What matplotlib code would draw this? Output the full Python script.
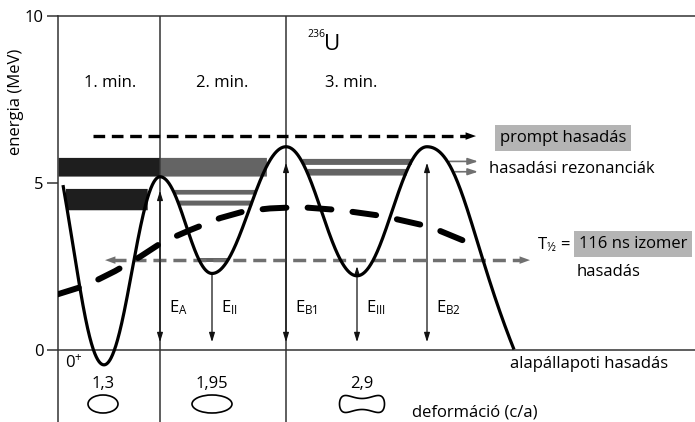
import numpy as np
import matplotlib.pyplot as plt
from matplotlib.patches import Ellipse, Polygon

plt.rcParams['font.family'] = ['Open Sans', 'DejaVu Sans']
plt.rcParams['mathtext.fontset'] = 'custom'
plt.rcParams['mathtext.rm'] = 'Open Sans'
plt.rcParams['mathtext.it'] = 'Open Sans:italic'
plt.rcParams['mathtext.bf'] = 'Open Sans:bold'

# fission barrier: wall start, 1. min, A, 2. min, B1, 3. min, B2, scission
node_x = [63, 104, 160, 212, 286, 357, 427, 514]
node_E = [4.93, -0.46, 5.18, 2.28, 6.08, 2.21, 6.08, 0.0]

# liquid drop part of the energy (thick dashed)
ld_x = [56, 87, 115, 140, 163, 190, 220, 245, 270, 300, 340, 383, 430, 472]
ld_E = [1.64, 1.93, 2.35, 2.78, 3.23, 3.58, 3.94, 4.15, 4.23, 4.27, 4.18, 4.00, 3.68, 3.16]

# level bands inside the wells
band_well = [1, 1, 2, 2, 2, 2, 3, 3]
band_lo = [5.20, 4.19, 5.20, 4.66, 4.33, 2.62, 5.55, 5.23]
band_hi = [5.76, 4.83, 5.76, 4.80, 4.48, 2.74, 5.73, 5.43]

E_prompt = 6.40
E_isomer = 2.68

min_names = ['1. min.', '2. min.', '3. min.']
min_name_x = [110, 222, 351]
deform_ca = ['1,3', '1,95', '2,9']
shape_x = [103, 212, 362]

PX = 33.35  # pixels per MeV


def barrier_curve(xs, es, slope0, slope1, k=0.38, n=300):
    cx, ce = [], []
    t = np.linspace(0, 1, n)[:, None]
    last = len(xs) - 2
    for i in range(len(xs) - 1):
        x0, x1, e0, e1 = xs[i], xs[i + 1], es[i], es[i + 1]
        dx = x1 - x0
        s0 = slope0 if i == 0 else 0.0
        s1 = slope1 if i == last else 0.0
        h0 = k * dx
        h1 = (0.5 if i == last else k) * dx
        P = np.array([[x0, e0], [x0 + h0, e0 + s0 * h0],
                      [x1 - h1, e1 - s1 * h1], [x1, e1]])
        b = ((1 - t) ** 3) * P[0] + 3 * ((1 - t) ** 2) * t * P[1] \
            + 3 * (1 - t) * t ** 2 * P[2] + t ** 3 * P[3]
        cx.append(b[:, 0])
        ce.append(b[:, 1])
    return np.concatenate(cx), np.concatenate(ce)


fig = plt.figure(figsize=(6.95, 4.22), dpi=100)
ax = fig.add_axes([58 / 695, 0, 637 / 695, 406 / 422])
ax.set_xlim(58, 695)
ax.set_ylim((349.5 - 422) / PX, (349.5 - 16) / PX)

frame = '#333333'
for side in ['right', 'bottom']:
    ax.spines[side].set_visible(False)
for side in ['left', 'top']:
    ax.spines[side].set_color(frame)
    ax.spines[side].set_linewidth(1.1)
ax.set_xticks([])
ax.set_yticks([0, 5, 10])
ax.tick_params(axis='y', direction='out', length=7.8, width=1.1, color=frame,
               labelsize=12, pad=2.4)

ax.axhline(0, color=frame, lw=1.1, zorder=2)
ax.axvline(node_x[2], color=frame, lw=1.1, zorder=2)
ax.axvline(node_x[4], color=frame, lw=1.1, zorder=2)

# barrier curve
cx, ce = barrier_curve(node_x, node_E, -0.17, -0.075)
xg = np.arange(58, 514, 0.1)
pot = np.interp(xg, cx, ce)

# level bands, each well between its two barrier tops
edges = [58, node_x[2], node_x[4], node_x[6]]
for w, lo, hi in zip(band_well, band_lo, band_hi):
    mid = (lo + hi) / 2
    mask = (xg >= edges[w - 1]) & (xg <= edges[w]) & (pot < mid)
    color = '#1e1e1e' if w == 1 else '#646464'
    ax.fill_between(xg, lo, hi, where=mask, color=color, lw=0, zorder=1)

ax.plot(cx, ce, color='black', lw=2.3, solid_capstyle='butt', zorder=5)

# liquid drop energy
ax.plot(ld_x, ld_E, color='black', lw=4.3, dashes=(4.0, 3.55),
        dash_capstyle='round', zorder=6)

# prompt fission
ax.plot([93, 466], [E_prompt] * 2, color='black', lw=2.4, dashes=(3.5, 2.0), zorder=4)
ax.annotate('', xy=(476, E_prompt), xytext=(465, E_prompt),
            arrowprops=dict(arrowstyle='-|>,head_length=0.75,head_width=0.27',
                            color='black', lw=0, mutation_scale=10,
                            shrinkA=0, shrinkB=0))

# isomer fission (both directions)
gray = '#707070'
ax.plot([113, 522], [E_isomer] * 2, color=gray, lw=2.5, dashes=(3.75, 2.0), zorder=3)
for tip, tail in [(105, 115), (530, 520)]:
    ax.annotate('', xy=(tip, E_isomer), xytext=(tail, E_isomer),
                arrowprops=dict(arrowstyle='-|>,head_length=0.75,head_width=0.27',
                                color=gray, lw=0, mutation_scale=10,
                                shrinkA=0, shrinkB=0))

# resonance arrows out of the third well
for lo, hi in zip(band_lo[-2:], band_hi[-2:]):
    mid = (lo + hi) / 2
    start = xg[np.where((xg > node_x[6]) & (pot < mid))[0][0]]
    ax.annotate('', xy=(478, mid), xytext=(start + 2, mid),
                arrowprops=dict(arrowstyle='-|>,head_length=0.6,head_width=0.2',
                                color=gray, lw=1.2, mutation_scale=10,
                                shrinkA=0, shrinkB=0))

# energy differences
def varrow(x, e0, e1, style):
    ax.annotate('', xy=(x, e1), xytext=(x, e0),
                arrowprops=dict(arrowstyle=style + ',head_length=0.55,head_width=0.17',
                                color='#111111', lw=0.9, mutation_scale=10,
                                shrinkA=0, shrinkB=0), zorder=4)


varrow(node_x[2], 0.22, node_E[2] - 0.42, '<|-|>')
varrow(node_x[3], node_E[3], 0.22, '-|>')
varrow(node_x[4], 0.22, node_E[4] - 0.48, '<|-|>')
varrow(node_x[5], 0.22, E_isomer - 0.18, '<|-|>')
varrow(node_x[6], 0.22, node_E[6] - 0.48, '<|-|>')

e_labels = [r'$\mathrm{E_{A}}$', r'$\mathrm{E_{II}}$', r'$\mathrm{E_{B1}}$',
            r'$\mathrm{E_{III}}$', r'$\mathrm{E_{B2}}$']
for xi, lab in zip(node_x[2:7], e_labels):
    ax.text(xi + 9, 1.13, lab, ha='left', va='baseline', fontsize=12)

# texts
for name, xm in zip(min_names, min_name_x):
    ax.text(xm, 7.86, name, ha='center', va='baseline', fontsize=12)
ax.text(307, 9.36, '236', ha='left', va='baseline', fontsize=7.5)
ax.text(324, 8.98, 'U', ha='left', va='baseline', fontsize=16)

box = dict(boxstyle='square,pad=0.3', fc='#b4b4b4', ec='none')
ax.text(500, 6.23, 'prompt hasadás', ha='left', va='baseline', fontsize=12, bbox=box)
ax.text(489, 5.28, 'hasadási rezonanciák', ha='left', va='baseline', fontsize=12)
ax.text(537, 3.03, r'$\mathrm{T_{½}}$ =', ha='left', va='baseline', fontsize=12)
ax.text(579, 3.03, '116 ns izomer', ha='left', va='baseline', fontsize=12, bbox=box)
ax.text(577, 2.21, 'hasadás', ha='left', va='baseline', fontsize=12)
ax.text(510, -0.56, 'alapállapoti hasadás', ha='left', va='baseline', fontsize=12)
ax.text(412, -2.01, 'deformáció (c/a)', ha='left', va='baseline', fontsize=12)
ax.text(65, -0.56, r'$\mathrm{0^{+}}$', ha='left', va='baseline', fontsize=12)
fig.text(16 / 695, 1 - 102 / 422, 'energia (MeV)', rotation=90,
         ha='center', va='center', fontsize=12)

# nuclear shapes with their c/a ratios
shape_E = -1.634
for lab, xs in zip(deform_ca, shape_x):
    ax.text(xs, -1.15, lab, ha='center', va='baseline', fontsize=12)
ax.add_patch(Ellipse((shape_x[0], shape_E), 30, 18 / PX, fill=False, ec='black', lw=1.2))
ax.add_patch(Ellipse((shape_x[1], shape_E), 40, 18 / PX, fill=False, ec='black', lw=1.2))
tt = np.linspace(0, 2 * np.pi, 200)
pe = np.sin(tt) * (5.5 + 13 * np.cos(tt) ** 2) / PX
ax.add_patch(Polygon(np.column_stack([shape_x[2] + 22.5 * np.cos(tt), shape_E + pe]),
                     closed=True, fill=False, ec='black', lw=1.2))

fig.savefig('out.png', dpi=100)
